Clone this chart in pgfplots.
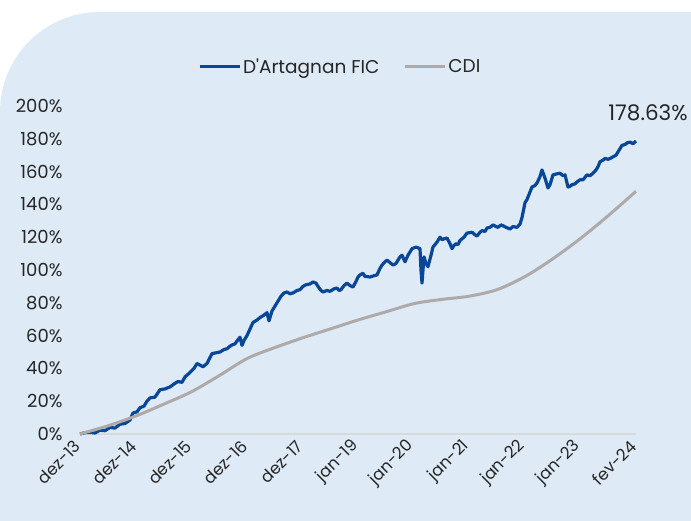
\documentclass[border=0pt]{standalone}
\usepackage{pgfplots}
\pgfplotsset{compat=1.18}
\usepackage{fontspec}
\setmainfont{Poppins}
\definecolor{bgblue}{HTML}{DEEAF6}
\definecolor{fundblue}{RGB}{8,70,152}
\definecolor{cdigray}{HTML}{AEAAAA}
\definecolor{txt}{HTML}{262626}
\begin{document}
\begin{tikzpicture}[x=1pt,y=1pt]
\fill[white] (0,0) rectangle (691,521);
\fill[bgblue] (0,0) -- (691,0) -- (691,509) -- (100,509) arc[start angle=90, end angle=180, radius=100] -- cycle;
\begin{axis}[
  at={(80pt,87pt)}, anchor=south west,
  scale only axis, width=556pt, height=328pt,
  xmin=0, xmax=556, ymin=0, ymax=200,
  axis lines=left,
  x axis line style={draw=black!15, line width=1.5pt, -},
  y axis line style={draw=none},
  major tick length=0pt,
  tick style={draw=none},
  ytick={0,20,...,200},
  yticklabel={\pgfmathprintnumber{\tick}\%},
  /pgf/number format/assume math mode=true,
  xtick={0,55.6,111.2,166.8,222.4,278,333.6,389.2,444.8,500.4,556},
  xticklabels={dez-13,dez-14,dez-15,dez-16,dez-17,jan-19,jan-20,jan-21,jan-22,jan-23,fev-24},
  yticklabel style={font=\fontsize{18}{19}\selectfont, text=txt, xshift=-14pt},
  xticklabel style={font=\fontsize{16.5}{18}\selectfont, text=txt, rotate=45, anchor=east, xshift=-5pt, yshift=-5pt},
  clip=false,
  legend style={at={(0.468,1.119)}, anchor=center, draw=none, fill=none,
    font=\fontsize{18.5}{20}\selectfont, text=txt, legend columns=2,
    /tikz/every even column/.append style={column sep=22pt}},
  legend image code/.code={\draw[#1, line width=3pt] (0pt,0pt) -- (40pt,0pt);},
]
\addplot[fundblue, line width=3.2pt, line join=round] coordinates {
(0,0) (5,0.8) (10,1) (15,0.6) (20,2.4) (25,2.0) (30,4) (35,3.6) (40,6) (45,6.4) (50,8.5) (53,12.8) (57,13.5) (60,16) (64,17) (67,20) (70,22) (75,22.5) (80,27) (85,27.5)
(90,28.7) (94,30.5) (98,32) (102,31.5) (105,34.8) (110,37.5) (114,40) (117,43) (120,42) (123,41) (127,43) (132,49) (136,49.5) (140,50) (144,51.5) (147,52)
(151,54) (155,55) (158,57.5) (160,59) (162,54) (164,57) (167,60) (170,64) (173,68) (177,69.5) (180,71) (184,72.5) (187,74) (189,69) (192,75) (195,78)
(198,81) (201,84) (204,86) (207,86.6) (210,85.5) (213,86) (217,87.5) (220,88) (223,90) (226,91) (230,91.5) (233,92.7) (236,92) (238,90) (241,87.5) (243,86.6)
(247,87.5) (250,87) (254,88.5) (257,89) (259,87.5) (261,88) (264,90.5) (267,92) (270,90.5) (273,89.6) (276,93) (278,95.7) (280,97) (283,98) (285,96) (287,96)
(290,95.7) (294,96.5) (297,97) (300,101) (302,103) (305,105) (307,106) (310,104.5) (313,103) (316,104) (318,106) (320,108) (322,109) (325,105) (328,109)
(332,113) (336,114) (338,113.5) (340,113) (341,100) (342,92) (344,108) (346,104) (348,102) (351,109)
(353,114) (355,115.5) (357,117) (360,120) (362,118.5) (364,119) (367,119.5) (370,116) (372,113) (374,115) (376,116) (378,115.5) (380,118) (384,120) (387,122.5) (392,123) (395,121.5) (397,120.7) (400,123) (402,124) (405,123.5) (407,125.6) (410,126) (413,127.5) (416,126.5) (418,126)
(421,127.5) (423,127) (426,126) (430,125) (433,126.5) (437,126) (440,128) (442,132) (445,141) (447,143) (449,146) (452,150.6) (455,151.5) (457,153)
(460,157) (462,161) (465,156) (468,150) (470,152) (473,158) (476,158.5) (480,159) (483,157.5) (485,158) (488,150.6) (490,151) (492,152) (495,152.5) (497,153.7) (500,155) (503,155) (505,156.5) (507,158) (510,157.5) (513,159) (516,161) (518,163) (520,166)
(523,167) (525,168) (528,167.5) (530,168) (533,169) (536,170) (538,172) (540,174) (542,176) (545,176.5) (547,177.5) (550,178) (553,177)
(556,178.63)
};
\addlegendentry{D\textquotesingle Artagnan FIC}
\addplot[cdigray, line width=3pt, line join=round, smooth] coordinates {
(0,0) (28,5) (56,11) (83,18) (111,25.6) (139,35.5) (167,46) (194,52.5) (222,58.5)
(250,64) (278,69.5) (306,74.5) (334,79.5) (361,82) (389,84) (417,88) (445,96)
(472,106.5) (500,119) (528,133) (556,148)
};
\addlegendentry{CDI}
\node[text=txt, font=\fontsize{21.5}{23}\selectfont] at (axis cs:568,195.7) {178.63\%};
\end{axis}
\pgfresetboundingbox
\path (0,0) rectangle (691,521);
\end{tikzpicture}
\end{document}
